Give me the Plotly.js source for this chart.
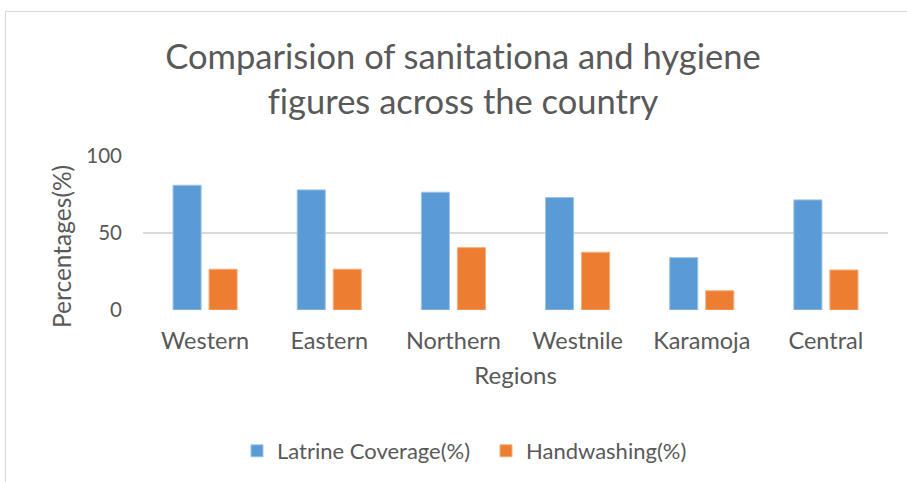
<!DOCTYPE html>
<html>
<head>
<meta charset="utf-8">
<script src="https://cdn.plot.ly/plotly-3.0.1.min.js"></script>
<style>
  html, body { margin: 0; padding: 0; background: #fff; }
  #wrap { position: relative; width: 907px; height: 482px; overflow: hidden; }
  #frame { position: absolute; left: 5px; top: 11px; width: 1000px; height: 600px;
           border-left: 1px solid #d9d9d9; border-top: 1px solid #d9d9d9; }
  #chart { position: absolute; left: 0; top: 0; width: 907px; height: 482px; }
  svg text { font-variant-ligatures: none; font-feature-settings: "liga" 0; }
</style>
</head>
<body>
<div id="wrap">
  <div id="frame"></div>
  <div id="chart"></div>
</div>
<script>
const regions = ["Western", "Eastern", "Northern", "Westnile", "Karamoja", "Central"];
const latrineCoverage = [81, 78, 76.5, 73, 34, 71.5];
const handwashing = [26.5, 26.5, 40.5, 37.5, 12.5, 26];
const seriesNames = ["Latrine Coverage(%)", "Handwashing(%)"];
const yTicks = [0, 50, 100];
const yTitle = "Percentages(%)";

const FONT = "Lato, 'Open Sans', sans-serif";
const TXT = "#595959";

const W = 907, H = 482;
const M = { l: 143, r: 19, t: 156, b: 172 };
const plotW = W - M.l - M.r, plotH = H - M.t - M.b;

const traces = [
  { type: "bar", name: seriesNames[0], x: regions, y: latrineCoverage,
    marker: { color: "#5B9BD5", line: { color: "#9cc3e8", width: 1 } }, hoverinfo: "skip" },
  { type: "bar", name: seriesNames[1], x: regions, y: handwashing,
    marker: { color: "#ED7D31", line: { color: "#f4ad80", width: 1 } }, hoverinfo: "skip" }
];

const layout = {
  width: W, height: H,
  paper_bgcolor: "rgba(0,0,0,0)", plot_bgcolor: "rgba(0,0,0,0)",
  margin: M,
  font: { family: FONT, color: TXT, size: 20 },
  title: {
    text: "Comparision of sanitationa and hygiene<br>figures across the country",
    font: { family: FONT, size: 34.5, color: TXT },
    x: 463 / W, xanchor: "center", xref: "container",
    y: 1 - 69 / H, yanchor: "middle", yref: "container"
  },
  barmode: "group", bargap: 0.42, bargroupgap: 0.22,
  xaxis: {
    type: "category", showgrid: false, zeroline: false, showline: false,
    ticks: "", tickfont: { size: 23.5, color: TXT }, ticklabelstandoff: 14,
    title: { text: "Regions", font: { size: 24, color: TXT }, standoff: 14 }
  },
  yaxis: {
    range: [0, 100], tickvals: yTicks, ticktext: yTicks.map(String),
    showgrid: true, gridcolor: "#d9d9d9", gridwidth: 2,
    zeroline: false, showline: false, ticks: "",
    tickfont: { size: 20.5, color: TXT }, ticklabelstandoff: 20
  },
  annotations: [{
    text: yTitle, textangle: -90, showarrow: false,
    xref: "paper", yref: "paper",
    x: (61 - M.l) / plotW, y: (H - M.b - 247) / plotH,
    xanchor: "center", yanchor: "middle",
    font: { family: FONT, size: 24.5, color: TXT }
  }],
  showlegend: true,
  legend: {
    orientation: "h", xref: "container", yref: "container",
    x: 486 / W, xanchor: "center", y: 1 - 451 / H, yanchor: "middle",
    font: { size: 22, color: TXT }, traceorder: "normal", itemclick: false,
    entrywidth: 204, entrywidthmode: "pixels"
  }
};

Plotly.newPlot("chart", traces, layout, { staticPlot: true, displayModeBar: false });
</script>
</body>
</html>
